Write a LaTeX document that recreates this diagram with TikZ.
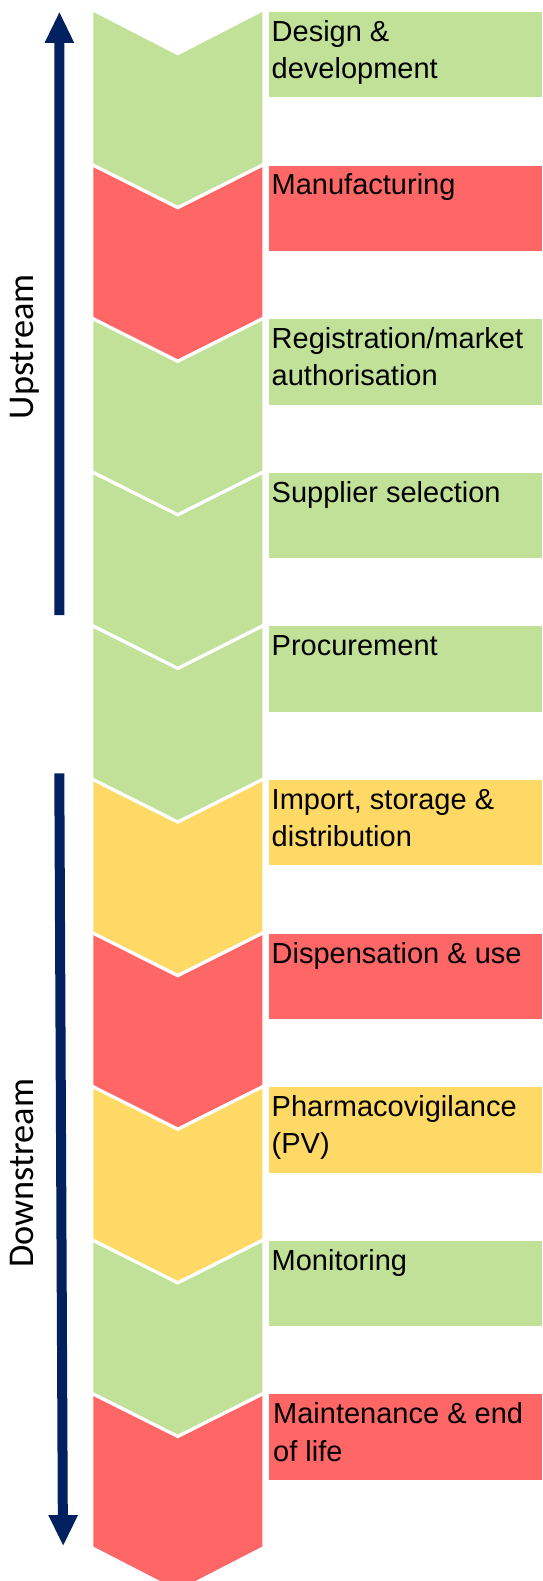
\documentclass[tikz,border=0pt]{standalone}
\usepackage{fontspec}
\setmainfont{Liberation Sans}
\newfontfamily\sidefont{Carlito}
\definecolor{cgreen}{HTML}{C1E199}
\definecolor{cred}{HTML}{FF6666}
\definecolor{cyellow}{HTML}{FFD966}
\definecolor{navy}{HTML}{002060}
\tikzset{
  lbl/.style={anchor=base west, inner sep=0pt, font=\fontsize{29}{37.3}\selectfont},
  sidelbl/.style={anchor=base, rotate=90, inner sep=0pt, font=\sidefont\fontsize{36.3}{40}\selectfont},
  sep/.style={draw=white, line width=3.3pt},
  arrowfill/.style={fill=navy}
}
\begin{document}
\begin{tikzpicture}[x=1pt,y=-1pt]
\useasboundingbox (0,0) rectangle (542,1581);
% chevrons
\foreach \k/\col in {0/cgreen,1/cred,2/cgreen,3/cgreen,4/cgreen,5/cyellow,6/cred,7/cyellow,8/cgreen,9/cred}{
  \pgfmathsetmacro\ta{10.5+153.6*\k+1.5*(\k==0)}
  \pgfmathsetmacro\tb{10.5+153.6*(\k+1)}
  \fill[\col] (93.3,\ta) -- (177.8,\ta+43.5) -- (262.3,\ta) -- (262.3,\tb) -- (177.8,\tb+43.5) -- (93.3,\tb) -- cycle;
}
\foreach \k in {1,...,9}{
  \pgfmathsetmacro\ta{10.5+153.6*\k}
  \draw[sep] (91,\ta) -- (177.8,\ta+43.5) -- (264.5,\ta);
}
% boxes
\foreach \k/\col in {0/cgreen,1/cred,2/cgreen,3/cgreen,4/cgreen,5/cyellow,6/cred,7/cyellow,8/cgreen,9/cred}{
  \pgfmathsetmacro\ba{12+153.6*\k}
  \fill[\col] (269.3,\ba) rectangle (542,\ba+85.4);
}
% texts
\node[lbl] (t0) at (271.5,41.4)   {\parbox[t]{265pt}{\raggedright Design \&\\development}};
\node[lbl] (t1) at (271.5,195.0)  {\parbox[t]{265pt}{\raggedright Manufacturing}};
\node[lbl] (t2) at (271.5,348.6)  {\parbox[t]{265pt}{\raggedright Registration/market\\authorisation}};
\node[lbl] (t3) at (271.5,502.2)  {\parbox[t]{265pt}{\raggedright Supplier selection}};
\node[lbl] (t4) at (271.5,655.8)  {\parbox[t]{265pt}{\raggedright Procurement}};
\node[lbl] (t5) at (271.5,809.4)  {\parbox[t]{265pt}{\raggedright Import, storage \&\\distribution}};
\node[lbl] (t6) at (271.5,963.0)  {\parbox[t]{265pt}{\raggedright Dispensation \& use}};
\node[lbl] (t7) at (271.5,1116.6) {\parbox[t]{265pt}{\raggedright Pharmacovigilance\\(PV)}};
\node[lbl] (t8) at (271.5,1270.2) {\parbox[t]{265pt}{\raggedright Monitoring}};
\node[lbl] (t9) at (273.0,1423.8) {\parbox[t]{265pt}{\raggedright Maintenance \& end\\of life}};
% arrows
\fill[arrowfill] (54.4,615) -- (54.4,43) -- (44.5,43) -- (59.4,12.4) -- (74.3,43) -- (64.4,43) -- (64.4,615) -- cycle;
\fill[arrowfill] (54.3,773.3) -- (64.3,773.3) -- (67.8,1515) -- (78,1515) -- (63.2,1545.3) -- (48.2,1515) -- (57.8,1515) -- cycle;
% side labels
\node[sidelbl] (up) at (33.3,346.7) {Upstream};
\node[sidelbl] (down) at (33.3,1173.3) {Downstream};
\end{tikzpicture}
\end{document}
